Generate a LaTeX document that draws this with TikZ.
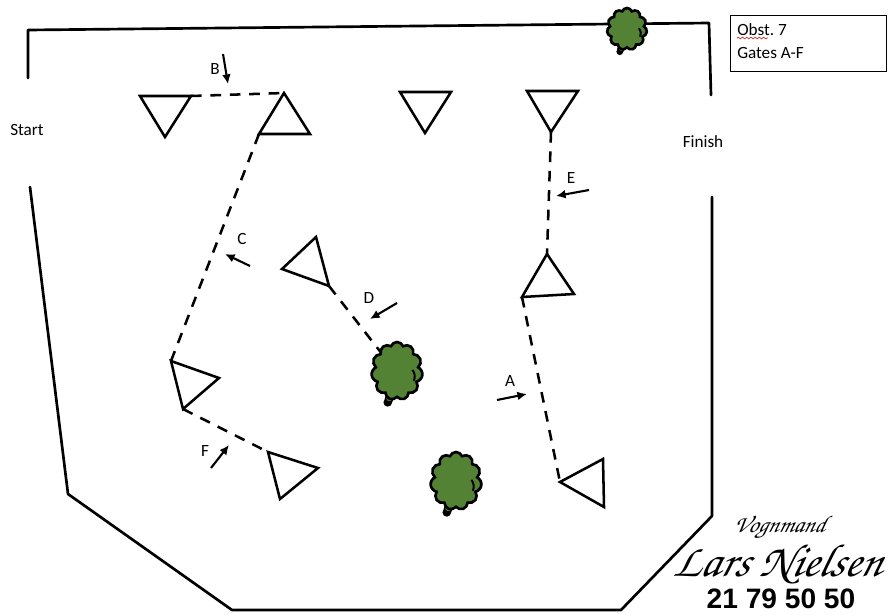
\documentclass[tikz,border=0pt]{standalone}
\usepackage{fontspec}
\setmainfont{Carlito}
\newfontfamily\logofont{Liberation Sans}
\usetikzlibrary{arrows.meta,shapes.symbols,decorations.pathmorphing}
\definecolor{treegreen}{HTML}{548235}
\definecolor{spellred}{HTML}{D03030}
\newcommand{\treeat}[4]{% name, position, width, height
  \fill[black] (#2) ++(-0.18*#3,-0.54*#4) circle[radius=0.085*#3];
  \filldraw[fill=treegreen,draw=black,line width=1pt] (#2) ++(-0.15*#3,-0.47*#4) circle[radius=0.075*#3];
  \node[treecrown,minimum width=#3,minimum height=#4] (#1) at (#2) {};
  \draw[treeline] (#1.center) ++(0.30*#3,0.02*#4) arc[start angle=40,end angle=-25,radius=0.2*#3];
}
\begin{document}
\begin{tikzpicture}[x=0.025cm,y=-0.025cm,
  every node/.style={font=\fontsize{12.2}{14}\selectfont,align=center,inner sep=0pt},
  border/.style={line width=1.9pt,line join=round,line cap=round},
  gate/.style={line width=1.8pt,line join=miter},
  gateline/.style={line width=1.8pt,dash pattern=on 7.6pt off 6.2pt},
  arr/.style={-{Latex[length=2.4mm,width=2.2mm]},line width=1.5pt},
  treecrown/.style={cloud,cloud puffs=11,cloud puff arc=140,aspect=1,draw=black,
    fill=treegreen,line width=1.9pt},
  treeline/.style={line width=1.4pt}
]
\useasboundingbox (0,0) rectangle (888,614);
\fill[white] (0,0) rectangle (888,614);

% course border
\draw[border] (28,78) -- (28,30) -- (709,23) -- (711,95);
\draw[border] (712,197) -- (712,516) -- (621,610) -- (232,610) -- (68,494) -- (30,187);

% gate corners
\coordinate (b1) at (140,96);  \coordinate (b2) at (191,96);  \coordinate (b3) at (165,137);
\coordinate (c1) at (284,93);  \coordinate (c2) at (310,134); \coordinate (c3) at (259,134);
\coordinate (m1) at (400,92);  \coordinate (m2) at (451,92);  \coordinate (m3) at (425,133);
\coordinate (e1) at (527,91);  \coordinate (e2) at (578,91);  \coordinate (e3) at (551,132);
\coordinate (a1) at (547,254); \coordinate (a2) at (574,294); \coordinate (a3) at (522,297);
\coordinate (d1) at (316,237); \coordinate (d2) at (329,286); \coordinate (d3) at (282,269);
\coordinate (f1) at (171,361); \coordinate (f2) at (219,378); \coordinate (f3) at (183,409);
\coordinate (g1) at (268,452); \coordinate (g2) at (318,468); \coordinate (g3) at (280,499);
\coordinate (h1) at (603,459); \coordinate (h2) at (604,507); \coordinate (h3) at (560,482);
\coordinate (treeDend) at (397,373);

% dashed lines between the gates
\draw[gateline] (b2) -- (c1);
\draw[gateline] (c3) -- (f1);
\draw[gateline] (d2) -- (treeDend);
\draw[gateline] (e3) -- (a1);
\draw[gateline] (a3) -- (h3);
\draw[gateline] (f3) -- (g1);

\foreach \g in {b,c,m,e,a,d,f,g,h}
  \draw[gate] (\g1) -- (\g2) -- (\g3) -- cycle;

% trees
\treeat{treeTop}{627,29}{1.0cm}{1.05cm}
\treeat{treeMid}{397,371}{1.28cm}{1.45cm}
\treeat{treeLow}{456,481}{1.28cm}{1.45cm}

% arrows and gate letters
\node (labB) at (215,69) {B};
\node (labC) at (242,239) {C};
\node (labD) at (369,298) {D};
\node (labE) at (571,178) {E};
\node (labA) at (510,381) {A};
\node (labF) at (205,451) {F};
\coordinate (arrBs) at (223,54);  \coordinate (arrBe) at (228,84);
\coordinate (arrCs) at (250,266); \coordinate (arrCe) at (225,254);
\coordinate (arrDs) at (397,303); \coordinate (arrDe) at (370,319);
\coordinate (arrEs) at (589,190); \coordinate (arrEe) at (556,196);
\coordinate (arrAs) at (497,400); \coordinate (arrAe) at (527,394);
\coordinate (arrFs) at (211,468); \coordinate (arrFe) at (229,445);
\foreach \g in {B,C,D,E,A,F}
  \draw[arr] (arr\g s) -- (arr\g e);

\node (start) at (27,130) {Start};
\node (finish) at (703,142) {Finish};

% info box
\node[draw=black,line width=0.7pt,minimum width=3.92cm,minimum height=1.42cm] (info) at (808.5,43.5) {};
\node[anchor=west] (obst) at (737,30) {Obst.\ 7};
\node[anchor=west] (gates) at (737,53) {Gates A-F};
\draw[spellred,line width=0.5pt,decorate,decoration={snake,amplitude=0.6pt,segment length=3pt}]
  (737,38) -- (768,38);

% logo
\node[xslant=0.25,transform shape] (vogn) at (780,528) {\usefont{T1}{pzc}{m}{it}\fontsize{17}{19}\selectfont Vognmand};
\node[xslant=0.25,transform shape] (lars) at (780,564) {\usefont{T1}{pzc}{m}{it}\fontsize{33}{36}\selectfont Lars Nielsen};
\node (phone) at (781,599) {\logofont\bfseries\fontsize{20}{22}\selectfont 21 79 50 50};
\end{tikzpicture}
\end{document}
